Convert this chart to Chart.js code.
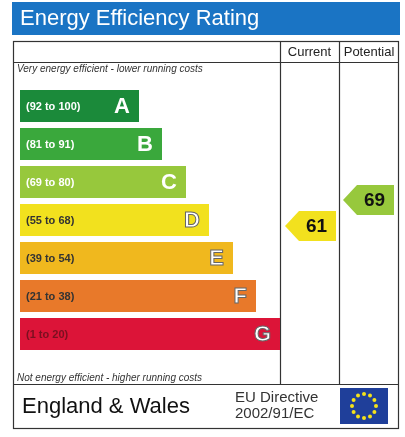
<!DOCTYPE html>
<html><head><meta charset="utf-8">
<script src="https://cdn.jsdelivr.net/npm/chart.js@4.4.0/dist/chart.umd.min.js"></script>
<style>html,body{margin:0;padding:0;background:#fff}</style>
</head><body>
<canvas id="c" width="405" height="437"></canvas>
<script>
const bands = ['A','B','C','D','E','F','G'];
const ranges = ['(92 to 100)','(81 to 91)','(69 to 80)','(55 to 68)','(39 to 54)','(21 to 38)','(1 to 20)'];
const bandWidths = [119,142,166,189,213,236,260];
const bandColors = ['#1b8a3a','#3aa83c','#97c83c','#f2e11e','#f0b81e','#e8792a','#dc1438'];
const bandMins = [92,81,69,55,39,21,1];
const currentScore = 61;
const potentialScore = 69;

function bandIndex(s){ for(let i=0;i<bandMins.length;i++){ if(s>=bandMins[i]) return i; } return 6; }

const epc = {
  id:'epc',
  beforeDatasetsDraw(chart){
    const c = chart.ctx;
    c.save();
    c.fillStyle='#1a74c4'; c.fillRect(12,2,388,33);
    c.fillStyle='#fff'; c.font='22px "Liberation Sans", Arial'; c.textBaseline='middle';
    c.fillText('Energy Efficiency Rating',20,19);
    c.strokeStyle='#333'; c.lineWidth=1.2;
    c.strokeRect(13.5,41.5,385,387);
    c.beginPath();
    c.moveTo(13,62.5);c.lineTo(399,62.5);
    c.moveTo(280.5,41);c.lineTo(280.5,384);
    c.moveTo(339.5,41);c.lineTo(339.5,384);
    c.moveTo(13,384.5);c.lineTo(399,384.5);
    c.stroke();
    c.fillStyle='#222'; c.font='13px "Liberation Sans", Arial';
    c.textAlign='center';
    c.fillText('Current',309.5,52); c.fillText('Potential',369,52);
    c.textAlign='left'; c.font='italic 10px "Liberation Sans", Arial'; c.fillStyle='#333';
    c.fillText('Very energy efficient - lower running costs',17,69);
    c.fillText('Not energy efficient - higher running costs',17,378);
    c.font='22px "Liberation Sans", Arial'; c.fillStyle='#111';
    c.fillText('England & Wales',22,407);
    c.font='15px "Liberation Sans", Arial'; c.fillStyle='#333';
    c.fillText('EU Directive',235,398); c.fillText('2002/91/EC',235,414);
    c.fillStyle='#1f3f9a'; c.fillRect(340,388,48,36);
    c.fillStyle='#f5e21a';
    for(let k=0;k<12;k++){const a=k*Math.PI/6;c.beginPath();c.arc(364+12*Math.cos(a),406+12*Math.sin(a),2,0,7);c.fill();}
    c.restore();
  },
  afterDatasetsDraw(chart){
    const c = chart.ctx, ys = chart.scales.y, xs = chart.scales.x;
    c.save(); c.textBaseline='middle';
    bands.forEach((b,i)=>{
      const y = ys.getPixelForValue(i), x1 = xs.getPixelForValue(bandWidths[i]);
      const light = i>=3;
      c.font='bold 11px "Liberation Sans", Arial'; c.textAlign='left';
      c.fillStyle = light ? (i==6?'#7a1020':'#333') : '#fff';
      c.fillText(ranges[i], xs.left+6, y+1);
      c.font='bold 22px "Liberation Sans", Arial'; c.textAlign='right';
      c.fillStyle='#fff'; c.lineWidth=1; c.strokeStyle = light?'#666':'rgba(0,0,0,0)';
      c.fillText(b,x1-9,y+1); if(light) c.strokeText(b,x1-9,y+1);
    });
    function arrow(score,xl,xr){
      const i=bandIndex(score), y=ys.getPixelForValue(i)+(i==3?6:18), h=15;
      c.beginPath(); c.moveTo(xl,y); c.lineTo(xl+14,y-h); c.lineTo(xr,y-h); c.lineTo(xr,y+h); c.lineTo(xl+14,y+h); c.closePath();
      c.fillStyle=bandColors[i]; c.fill();
      c.fillStyle='#111'; c.font='bold 19px "Liberation Sans", Arial'; c.textAlign='center';
      c.fillText(String(score),(xl+xr)/2+6,y+1);
    }
    arrow(currentScore,285,336);
    arrow(potentialScore,343,394);
    c.restore();
  }
};

new Chart(document.getElementById('c'),{
  type:'bar',
  data:{labels:bands,datasets:[{data:bandWidths,backgroundColor:bandColors,barPercentage:0.84,categoryPercentage:1,borderWidth:0}]},
  options:{
    indexAxis:'y',responsive:false,animation:false,devicePixelRatio:1,
    layout:{padding:{left:20,right:125,top:87,bottom:84}},
    plugins:{legend:{display:false},tooltip:{enabled:false}},
    scales:{x:{display:false,min:0,max:260},y:{display:false}}
  },
  plugins:[epc]
});
</script>
</body></html>
